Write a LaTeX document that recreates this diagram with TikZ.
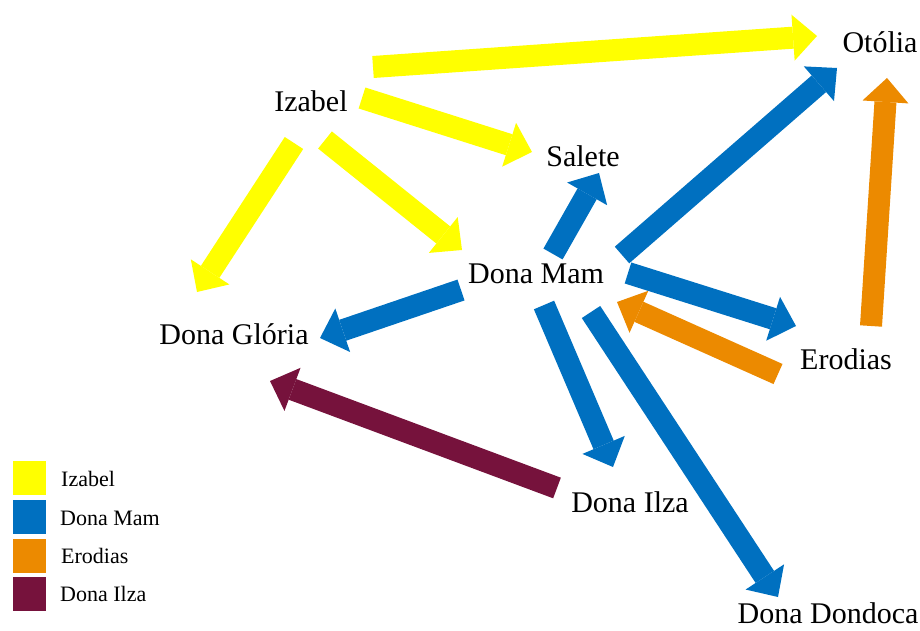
\documentclass[tikz,border=0pt]{standalone}
\usepackage{fontspec}
\setmainfont{Liberation Serif}
\usetikzlibrary{arrows.meta}
\definecolor{cyel}{HTML}{FFFF00}
\definecolor{cblue}{HTML}{0070C0}
\definecolor{corange}{HTML}{EC8A00}
\definecolor{cpurple}{HTML}{76123C}
\tikzset{
  person/.style={inner sep=0pt, font=\fontsize{30}{36}\selectfont},
  legtext/.style={inner sep=0pt, anchor=west, font=\fontsize{22}{26}\selectfont},
  legbox/.style={inner sep=0pt, minimum width=33pt, minimum height=34pt},
  barrow/.style={draw=#1, line width=22pt, -{Triangle[length=24pt,width=46pt,line width=0pt,fill=#1]}},
}
\begin{document}
\begin{tikzpicture}[x=1pt,y=-1pt]
\useasboundingbox (0,0) rectangle (920,631);
% people
\node[person] (otolia) at (880,42) {Otólia};
\node[person] (izabel) at (311,101) {Izabel};
\node[person] (salete) at (583,156) {Salete};
\node[person] (mam) at (536,274) {Dona Mam};
\node[person] (gloria) at (234,334) {Dona Glória};
\node[person] (erodias) at (846,359) {Erodias};
\node[person] (ilza) at (630,502) {Dona Ilza};
\node[person] (dondoca) at (828,613) {Dona Dondoca};
% arrow end points
\coordinate (a1s) at (373,67);  \coordinate (a1e) at (817,36);
\coordinate (a2s) at (362,98);  \coordinate (a2e) at (532,152);
\coordinate (a3s) at (325,140); \coordinate (a3e) at (462,250);
\coordinate (a4s) at (294,143); \coordinate (a4e) at (197,292);
\coordinate (b1s) at (461,290); \coordinate (b1e) at (320,338);
\coordinate (b2s) at (553,254); \coordinate (b2e) at (599,173);
\coordinate (b3s) at (622,255); \coordinate (b3e) at (837,68);
\coordinate (b4s) at (628,273); \coordinate (b4e) at (796,326);
\coordinate (b5s) at (544,305); \coordinate (b5e) at (613,467);
\coordinate (b6s) at (591,312); \coordinate (b6e) at (778,597);
\coordinate (o1s) at (778,374); \coordinate (o1e) at (617,302);
\coordinate (o2s) at (871,326); \coordinate (o2e) at (887,78);
\coordinate (p1s) at (557,488); \coordinate (p1e) at (270,381);
% Izabel
\draw[barrow=cyel] (a1s) -- (a1e);
\draw[barrow=cyel] (a2s) -- (a2e);
\draw[barrow=cyel] (a3s) -- (a3e);
\draw[barrow=cyel] (a4s) -- (a4e);
% Dona Mam
\draw[barrow=cblue] (b1s) -- (b1e);
\draw[barrow=cblue] (b2s) -- (b2e);
\draw[barrow=cblue] (b3s) -- (b3e);
\draw[barrow=cblue] (b4s) -- (b4e);
\draw[barrow=cblue] (b5s) -- (b5e);
\draw[barrow=cblue] (b6s) -- (b6e);
% Erodias
\draw[barrow=corange] (o1s) -- (o1e);
\draw[barrow=corange] (o2s) -- (o2e);
% Dona Ilza
\draw[barrow=cpurple] (p1s) -- (p1e);
% legend
\node[legbox, fill=cyel] (l1) at (29,478) {};
\node[legbox, fill=cblue] (l2) at (29,517) {};
\node[legbox, fill=corange] (l3) at (29,556) {};
\node[legbox, fill=cpurple] (l4) at (29,594) {};
\node[legtext] (t1) at (61,479) {Izabel};
\node[legtext] (t2) at (60,518) {Dona Mam};
\node[legtext] (t3) at (61,556) {Erodias};
\node[legtext] (t4) at (60,594) {Dona Ilza};
\end{tikzpicture}
\end{document}
